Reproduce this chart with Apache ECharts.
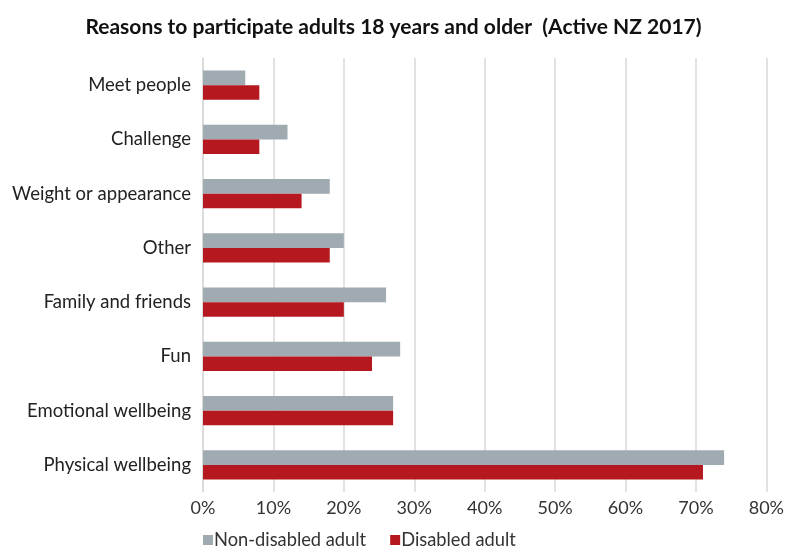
<!DOCTYPE html>
<html>
<head>
<meta charset="utf-8">
<script src="https://cdn.jsdelivr.net/npm/echarts@6/dist/echarts.min.js"></script>
<style>
  html, body { margin: 0; padding: 0; background: #fff; }
  #chart { width: 787px; height: 548px; }
</style>
</head>
<body>
<div id="chart"></div>
<script>
// Reasons to participate, listed bottom-to-top along the category axis
const categories = ['Physical wellbeing', 'Emotional wellbeing', 'Fun', 'Family and friends',
  'Other', 'Weight or appearance', 'Challenge', 'Meet people'];
const nonDisabled = [74, 27, 28, 26, 20, 18, 12, 6];
const disabled = [71, 27, 24, 20, 18, 14, 8, 8];
const tickValues = [0, 10, 20, 30, 40, 50, 60, 70, 80];

const FONT = 'Lato, "Noto Sans", sans-serif';
const GREY = '#A0AAB1';
const RED = '#B5191F';

const chart = echarts.init(document.getElementById('chart'), null, { renderer: 'canvas' });
chart.setOption({
  animation: false,
  title: {
    text: 'Reasons to participate adults 18 years and older  (Active NZ 2017)',
    left: 'center',
    top: 12,
    textStyle: { fontFamily: FONT, fontSize: 21, fontWeight: 'bold', color: '#111' }
  },
  legend: {
    data: ['Non-disabled adult', 'Disabled adult'],
    left: 198,
    bottom: -6,
    itemWidth: 10,
    itemHeight: 10,
    itemGap: 24,
    icon: 'rect',
    textStyle: { fontFamily: FONT, fontSize: 18.3, color: '#333', padding: [0, 0, 0, -4] }
  },
  grid: { left: 203, right: 19, top: 58, bottom: 56 },
  xAxis: {
    type: 'value',
    min: tickValues[0],
    max: tickValues[tickValues.length - 1],
    interval: 10,
    axisLine: { show: false },
    axisTick: { show: false },
    splitLine: { show: true, lineStyle: { color: '#D9D9D9', width: 1.5 } },
    axisLabel: { fontFamily: FONT, fontSize: 18, color: '#333', margin: 7, formatter: '{value}%' }
  },
  yAxis: {
    type: 'category',
    data: categories,
    axisLine: { show: true, lineStyle: { color: '#D9D9D9', width: 1.5 } },
    axisTick: { show: false },
    axisLabel: { fontFamily: FONT, fontSize: 18.5, color: '#222', margin: 12 }
  },
  series: [
    {
      name: 'Non-disabled adult',
      type: 'bar',
      data: nonDisabled,
      itemStyle: { color: GREY },
      barGap: '0%',
      barCategoryGap: '46%'
    },
    {
      name: 'Disabled adult',
      type: 'bar',
      data: disabled,
      itemStyle: { color: RED },
      barGap: '0%',
      barCategoryGap: '46%'
    }
  ]
});
</script>
</body>
</html>
